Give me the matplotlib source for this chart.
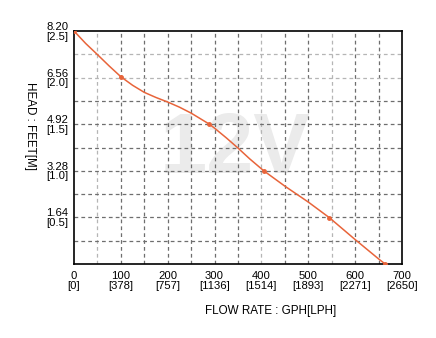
import numpy as np
import matplotlib
matplotlib.use('Agg')
import matplotlib.pyplot as plt

plt.rcParams['font.family'] = ['Liberation Sans', 'DejaVu Sans']

# pump curve (flow in GPH, head in feet)
flow = [0, 25, 50, 75, 100, 125, 150, 175, 200, 225, 250, 275, 289, 300,
        325, 350, 375, 405, 450, 500, 545, 600, 650, 664]
head = [8.20, 7.76, 7.37, 6.97, 6.59, 6.29, 6.04, 5.86, 5.70, 5.52, 5.31, 5.06,
        4.92, 4.78, 4.44, 4.08, 3.70, 3.28, 2.74, 2.18, 1.63, 0.86, 0.18, 0.0]
mark_flow = [0, 100, 289, 405, 545, 664]
mark_head = [8.20, 6.59, 4.92, 3.28, 1.63, 0.0]

xticks = [0, 100, 200, 300, 400, 500, 600, 700]
xlabels = ['0\n[0]', '100\n[378]', '200\n[757]', '300\n[1136]', '400\n[1514]',
           '500\n[1893]', '600\n[2271]', '700\n[2650]']
yticks = [1.64, 3.28, 4.92, 6.56, 8.20]
ylabels = ['1.64\n[0.5]', '3.28\n[1.0]', '4.92\n[1.5]', '6.56\n[2.0]', '8.20\n[2.5]']

fig = plt.figure(figsize=(4.36, 3.38), dpi=100)
ax = fig.add_axes([74/436, 1-264/338, 328/436, 233/338])

c = '#e8643a'
ax.text(0.491, 0.485, '12V', transform=ax.transAxes, ha='center', va='center',
        fontsize=61, fontweight='bold', color='#ebebeb', zorder=0)

# dashed grid, some lines come out lighter in the original
light_x = [50, 400, 550]
light_y = [0.82*9, 0.82*8]
for gx in range(50, 700, 50):
    col = '#b5b5b5' if gx in light_x else '#6e6e6e'
    ax.axvline(gx, color=col, lw=0.9, ls=(0, (3, 2.5)), zorder=1)
for i in range(1, 10):
    gy = 0.82*i
    col = '#b5b5b5' if any(abs(gy-l) < 1e-6 for l in light_y) else '#6e6e6e'
    ax.axhline(gy, color=col, lw=0.9, ls=(0, (3, 2.5)), zorder=1)

ax.plot(flow, head, c=c, lw=1.1, zorder=3, solid_joinstyle='round')
ax.plot(mark_flow, mark_head, 'o', c=c, ms=2.5, zorder=4)

ax.set_xlim(0, 700)
ax.set_ylim(0, 8.20)
ax.set_xticks(xticks)
ax.set_xticklabels(xlabels, fontsize=8.1, linespacing=1.0)
ax.set_yticks(yticks)
ax.set_yticklabels(ylabels, fontsize=8.1, linespacing=0.95)
ax.tick_params(length=0, pad=5)
ax.tick_params(axis='y', pad=4)
for s in ax.spines.values():
    s.set_linewidth(1.2)
    s.set_color('black')

fig.text(271/436, 1-311/338, 'FLOW RATE : GPH[LPH]', ha='center', va='center', fontsize=8.4)
fig.text(30/436, 1-126/338, 'HEAD : FEET[M]', ha='center', va='center', fontsize=8.4,
         rotation=270)

fig.savefig('out.png', dpi=100)
